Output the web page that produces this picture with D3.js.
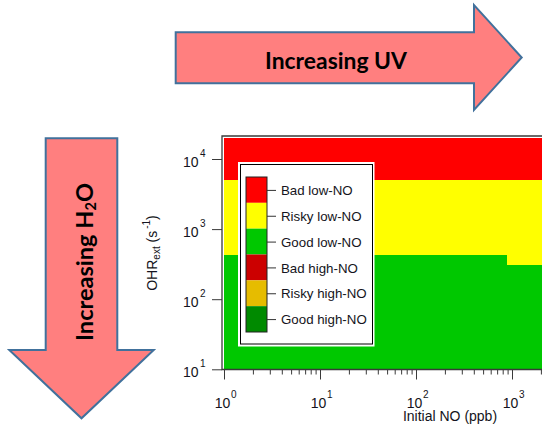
<!DOCTYPE html>
<html>
<head>
<meta charset="utf-8">
<script src="https://cdn.jsdelivr.net/npm/d3@7"></script>
<style>
  html, body { margin: 0; padding: 0; background: #fff; }
  svg { display: block; }
</style>
</head>
<body>
<svg id="chart" width="542" height="425"></svg>
<script>
// Initial NO bin edges (ppb) and the OHRext limits (s^-1) of each regime per bin
const noEdges = [1, 880, 5000];
const goodTop = [425, 306];      // upper edge of the "good" regime
const riskyTop = [5000, 5000];   // upper edge of the "risky" regime
const ohrRange = [10, 20000];
const noRange = [1, 5000];

// Tick values
const xMajorTicks = [1, 10, 100, 1000];
const yMajorTicks = [10, 100, 1000, 10000];
const tickLabelBase = "10";

// Legend categories
const legendLabels = ["Bad low-NO", "Risky low-NO", "Good low-NO", "Bad high-NO", "Risky high-NO", "Good high-NO"];
const legendColors = ["#ff0000", "#ffff00", "#00c800", "#cc0000", "#e6bc00", "#008a00"];
const regimeColors = { good: "#00c800", risky: "#ffff00", bad: "#ff0000" };

const svg = d3.select("#chart");
svg.append("rect").attr("width", 542).attr("height", 425).attr("fill", "#fff");

const axisFont = "'Liberation Sans', Arial, sans-serif";
const arrowFont = "Lato, 'Open Sans', sans-serif";
const ink = "#141420";

// ---- Arrows ----
const arrowFill = "#ff7f7f", arrowStroke = "#41719c";
const uvArrow = [[175.7, 32.3], [474, 32.3], [474, 5], [521.7, 57.5], [474, 110], [474, 83.3], [175.7, 83.3]];
const h2oArrow = [[45.7, 138.3], [117.3, 138.3], [117.3, 350], [153.7, 350], [81.5, 418.3], [9.3, 350], [45.7, 350]];
[uvArrow, h2oArrow].forEach(pts => {
  svg.append("path")
    .attr("d", d3.line()(pts) + "Z")
    .attr("fill", arrowFill)
    .attr("stroke", arrowStroke)
    .attr("stroke-width", 2)
    .attr("stroke-linejoin", "miter");
});

function fitFont(textSel, target, start) {
  textSel.attr("font-size", start);
  const w = textSel.node().getComputedTextLength();
  textSel.attr("font-size", start * target / w);
}

const uvText = svg.append("text")
  .attr("x", 336).attr("y", 69)
  .attr("text-anchor", "middle")
  .attr("font-family", arrowFont).attr("font-weight", 700)
  .attr("fill", "#000")
  .text("Increasing UV");
fitFont(uvText, 142, 22);

const h2oText = svg.append("text")
  .attr("transform", "translate(93,262) rotate(-90)")
  .attr("text-anchor", "middle")
  .attr("font-family", arrowFont).attr("font-weight", 700)
  .attr("fill", "#000");
h2oText.append("tspan").text("Increasing H");
h2oText.append("tspan").attr("font-size", "0.62em").attr("dy", "0.22em").text("2");
h2oText.append("tspan").attr("dy", "-0.136em").text("O");
fitFont(h2oText, 158, 22);

// ---- Scales ----
const x = d3.scaleLog().domain(noRange).range([224, 224 + 96 * Math.log10(noRange[1])]);
const y = d3.scaleLog().domain(ohrRange).range([369.3, 369.3 - 70.1 * Math.log10(ohrRange[1] / ohrRange[0])]);

// ---- Regime map ----
const cells = [];
goodTop.forEach((g, i) => {
  const x0 = noEdges[i], x1 = noEdges[i + 1];
  cells.push({ x0, x1, y0: ohrRange[0], y1: g, color: regimeColors.good });
  cells.push({ x0, x1, y0: g, y1: riskyTop[i], color: regimeColors.risky });
  cells.push({ x0, x1, y0: riskyTop[i], y1: ohrRange[1], color: regimeColors.bad });
});
svg.append("g").selectAll("rect").data(cells).join("rect")
  .attr("x", d => x(d.x0))
  .attr("width", d => x(d.x1) - x(d.x0))
  .attr("y", d => y(d.y1))
  .attr("height", d => y(d.y0) - y(d.y1))
  .attr("fill", d => d.color)
  .attr("shape-rendering", "crispEdges");

// ---- Axes ----
const axisColor = "#3a3a3a";
const xAllTicks = [];
xMajorTicks.forEach(p => { for (let m = 1; m <= 9; m++) xAllTicks.push(m * p); });

const gx = svg.append("g").attr("transform", "translate(0,369.5)")
  .call(d3.axisBottom(x).tickValues(xAllTicks).tickFormat("").tickSizeOuter(0));
gx.select(".domain").remove();
gx.selectAll(".tick line")
  .attr("stroke", axisColor)
  .attr("y2", d => xMajorTicks.includes(d) ? 10 : 5);

const gy = svg.append("g").attr("transform", "translate(222,0)")
  .call(d3.axisLeft(y).tickValues(yMajorTicks).tickFormat("").tickSize(10).tickSizeOuter(0));
gy.select(".domain").remove();
gy.selectAll(".tick line").attr("stroke", axisColor);

// frame lines: left axis, bottom axis, top edge
svg.append("path")
  .attr("d", `M542,136 H222 V369.5 H542`)
  .attr("fill", "none").attr("stroke", axisColor).attr("stroke-width", 1.3);

// tick labels with exponent
const xl = svg.append("g").attr("font-family", axisFont).attr("fill", ink);
xMajorTicks.forEach(v => {
  xl.append("text").attr("x", x(v) - 1.5).attr("y", 408.3).attr("text-anchor", "middle")
    .attr("font-size", 14).text(tickLabelBase);
  xl.append("text").attr("x", x(v) + 7).attr("y", 398.3)
    .attr("font-size", 10).text(Math.round(Math.log10(v)));
});
const yl = svg.append("g").attr("font-family", axisFont).attr("fill", ink);
yMajorTicks.forEach(v => {
  yl.append("text").attr("x", 198.5).attr("y", y(v) + 7.7).attr("text-anchor", "end")
    .attr("font-size", 14).text(tickLabelBase);
  yl.append("text").attr("x", 200).attr("y", y(v) - 2.5)
    .attr("font-size", 10).text(Math.round(Math.log10(v)));
});

// axis titles
svg.append("text")
  .attr("x", 450).attr("y", 420.7).attr("text-anchor", "middle")
  .attr("font-family", axisFont).attr("font-size", 14).attr("fill", ink)
  .text("Initial NO (ppb)");

const yt = svg.append("text")
  .attr("transform", "translate(156.5,253) rotate(-90)")
  .attr("text-anchor", "middle")
  .attr("font-family", axisFont).attr("font-size", 14).attr("fill", ink);
yt.append("tspan").text("OHR");
yt.append("tspan").attr("font-size", 10).attr("dy", 3).text("ext");
yt.append("tspan").attr("dy", -3).text(" (s");
yt.append("tspan").attr("font-size", 10).attr("dy", -7).attr("dx", 2).text("-1");
yt.append("tspan").attr("dy", 7).text(")");

// ---- Legend ----
const lg = svg.append("g");
lg.append("rect").attr("x", 238).attr("y", 162).attr("width", 136.5).attr("height", 184.5).attr("fill", "#fff");
lg.append("rect").attr("x", 240.5).attr("y", 164.5).attr("width", 132).attr("height", 179.5)
  .attr("fill", "none").attr("stroke", "#000").attr("stroke-width", 1);

const barY = d3.scaleBand().domain(legendLabels).range([177, 332]).paddingInner(0).paddingOuter(0);
lg.selectAll("rect.seg").data(legendLabels).join("rect")
  .attr("class", "seg")
  .attr("x", 246).attr("width", 21)
  .attr("y", d => barY(d)).attr("height", barY.bandwidth())
  .attr("fill", (d, i) => legendColors[i]);
lg.append("rect").attr("x", 246).attr("y", 177).attr("width", 21).attr("height", 155)
  .attr("fill", "none").attr("stroke", "#222").attr("stroke-width", 1);
lg.selectAll("line.lt").data(legendLabels).join("line")
  .attr("class", "lt")
  .attr("x1", 267).attr("x2", 276)
  .attr("y1", d => barY(d) + barY.bandwidth() / 2 + 0.5)
  .attr("y2", d => barY(d) + barY.bandwidth() / 2 + 0.5)
  .attr("stroke", "#333");
lg.selectAll("text").data(legendLabels).join("text")
  .attr("x", 281)
  .attr("y", d => barY(d) + barY.bandwidth() / 2 + 5.2)
  .attr("font-family", axisFont).attr("font-size", 13.3).attr("fill", ink)
  .text(d => d);
</script>
</body>
</html>
